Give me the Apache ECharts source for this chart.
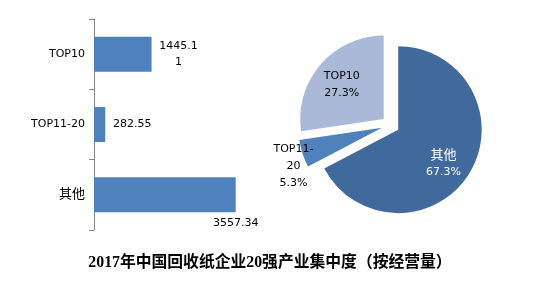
<!DOCTYPE html>
<html>
<head>
<meta charset="utf-8">
<script src="https://cdn.jsdelivr.net/npm/echarts@6/dist/echarts.min.js"></script>
<style>html,body{margin:0;padding:0;background:#fff;}#c{width:549px;height:282px;}</style>
</head>
<body>
<div id="c"></div>
<script>
const categories = ['TOP10', 'TOP11-20', '其他'];
const barValues = [1445.11, 282.55, 3557.34];
const pieNames = ['其他', 'TOP11-20', 'TOP10'];
const pieValues = [3557.34, 282.55, 1445.11];
const titleText = '2017年中国回收纸企业20强产业集中度（按经营量）';

const font = "'DejaVu Sans', 'Noto Sans CJK SC', sans-serif";
const pieColors = ['#416a9c', '#4f81bd', '#aab9d7'];
const pieLabelColors = ['#ffffff', '#000000', '#000000'];
const pieLabelShift = [[7, 11], [-46, 24], [-8, -5.5]];
const isCJK = s => /[\u4e00-\u9fff]/.test(s);

const barItemLabels = [
  {width: 42, overflow: 'breakAll'},
  {},
  {position: ['100%', '100%'], offset: [0, 11], align: 'center', verticalAlign: 'middle'}
];

const chart = echarts.init(document.getElementById('c'), null, {renderer: 'canvas'});
chart.setOption({
  animation: false,
  title: {
    text: titleText,
    left: 265,
    top: 250,
    textAlign: 'center',
    textStyle: {fontFamily: "'Liberation Serif', 'Noto Sans CJK SC', serif", fontWeight: 'bold', fontSize: 15.8, color: '#000'}
  },
  grid: {left: 94, top: 19, height: 211, width: 239, containLabel: false},
  xAxis: {type: 'value', min: 0, max: 6000, show: false},
  yAxis: {
    type: 'category', data: categories, inverse: true,
    axisLine: {lineStyle: {color: '#868686', width: 1}},
    axisTick: {show: true, length: 5, alignWithLabel: false, lineStyle: {color: '#868686'}},
    axisLabel: {
      margin: 9, color: '#000', fontSize: 11, fontFamily: font,
      formatter: v => isCJK(v) ? '{c|' + v + '}' : v,
      rich: {c: {fontSize: 13, fontFamily: font, color: '#000'}}
    }
  },
  series: [
    {
      type: 'bar',
      data: barValues.map((v, i) => ({value: v, label: barItemLabels[i]})),
      barWidth: 35,
      itemStyle: {color: '#4f81bd'},
      label: {
        show: true, position: 'right', distance: 27, align: 'center', verticalAlign: 'middle',
        lineHeight: 16.5,
        color: '#000', fontSize: 11, fontFamily: font
      },
      emphasis: {disabled: true}
    },
    {
      type: 'pie',
      center: [390.5, 125],
      radius: [0, 83.5],
      startAngle: 90,
      clockwise: true,
      selectedMode: 'multiple',
      selectedOffset: 9,
      emphasis: {disabled: true},
      data: pieNames.map((n, i) => ({
        name: n, value: pieValues[i], selected: true,
        itemStyle: {color: pieColors[i]},
        label: {color: pieLabelColors[i]}
      })),
      label: {
        show: true, position: 'inside',
        fontSize: 11, fontFamily: font, lineHeight: 17,
        width: 42, overflow: 'breakAll', align: 'center',
        formatter: p => (isCJK(p.name) ? '{c|' + p.name + '}' : p.name) + '\n' + p.percent.toFixed(1) + '%',
        rich: {c: {fontSize: 13, fontFamily: font, lineHeight: 17}}
      },
      labelLine: {show: false},
      labelLayout: p => ({dx: pieLabelShift[p.dataIndex][0], dy: pieLabelShift[p.dataIndex][1]})
    }
  ]
});
</script>
</body>
</html>
